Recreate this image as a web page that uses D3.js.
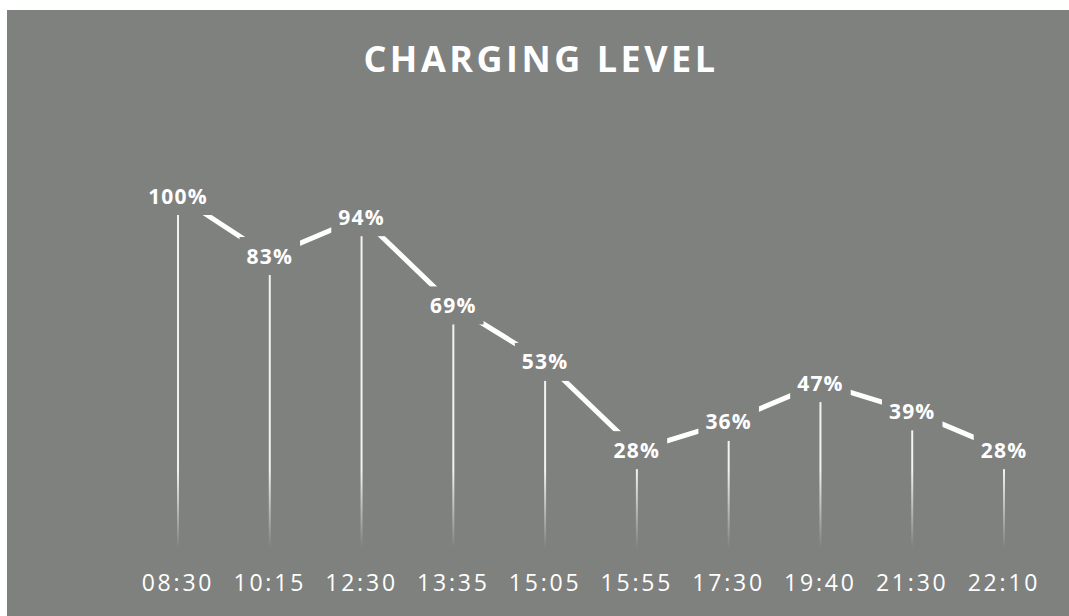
<!DOCTYPE html>
<html>
<head>
<meta charset="utf-8">
<script src="https://cdn.jsdelivr.net/npm/d3@7"></script>
<style>
  body { margin: 0; background: #fff; }
  svg { display: block; }
</style>
</head>
<body>
<div id="container"></div>
<script>
/* DATA */
const times = ["08:30", "10:15", "12:30", "13:35", "15:05", "15:55", "17:30", "19:40", "21:30", "22:10"];
const levels = [100, 83, 94, 69, 53, 28, 36, 47, 39, 28];

/* CONSTANTS */
const width = 1069,
  height = 616,
  bg = "#7f817f",
  margin = { top: 10, left: 7 };

const svg = d3.select("#container")
  .append("svg")
  .attr("width", width)
  .attr("height", height);

svg.append("rect")
  .attr("x", margin.left)
  .attr("y", margin.top)
  .attr("width", width - margin.left)
  .attr("height", height - margin.top)
  .attr("fill", bg);

// fade for the drop lines
const grad = svg.append("defs").append("linearGradient")
  .attr("id", "fade")
  .attr("gradientUnits", "userSpaceOnUse")
  .attr("x1", 0).attr("x2", 0)
  .attr("y1", 470).attr("y2", 548);
grad.append("stop").attr("offset", 0).attr("stop-color", "#fff").attr("stop-opacity", 0.9);
grad.append("stop").attr("offset", 1).attr("stop-color", "#fff").attr("stop-opacity", 0);

/* SCALES */
const xScale = d3.scalePoint()
  .domain(times)
  .range([178, 1004]);

const yScale = d3.scaleLinear()
  .domain([0, 100])
  .range([549, 196]);

const data = times.map((t, i) => ({ time: t, level: levels[i] }));

/* TITLE */
svg.append("text")
  .attr("x", 541)
  .attr("y", 72)
  .attr("text-anchor", "middle")
  .attr("fill", "#fff")
  .attr("font-family", "Open Sans")
  .attr("font-weight", "bold")
  .attr("font-size", 36)
  .attr("letter-spacing", 3.5)
  .text("CHARGING LEVEL");

/* DROP LINES */
svg.append("g")
  .selectAll("line")
  .data(data)
  .join("line")
  .attr("x1", d => xScale(d.time))
  .attr("x2", d => xScale(d.time))
  .attr("y1", d => yScale(d.level))
  .attr("y2", yScale(0))
  .attr("stroke", "url(#fade)")
  .attr("stroke-width", 2);

/* LINE */
const line = d3.line()
  .x(d => xScale(d.time))
  .y(d => yScale(d.level));

svg.append("path")
  .datum(data)
  .attr("d", line)
  .attr("fill", "none")
  .attr("stroke", "#fff")
  .attr("stroke-width", 5);

/* DATA LABELS */
const labels = svg.append("g")
  .selectAll("g")
  .data(data)
  .join("g")
  .attr("transform", d => `translate(${xScale(d.time)},${yScale(d.level)})`);

labels.append("text")
  .attr("text-anchor", "middle")
  .attr("dy", "0.36em")
  .attr("fill", "#fff")
  .attr("font-family", "Open Sans")
  .attr("font-weight", "bold")
  .attr("font-size", 21)
  .attr("letter-spacing", 1.2)
  .text(d => d.level + "%");

// gray box behind each label to break the line
labels.each(function() {
  const g = d3.select(this);
  const bb = g.select("text").node().getBBox();
  g.insert("rect", "text")
    .attr("x", bb.x - 7)
    .attr("y", -19)
    .attr("width", bb.width + 14)
    .attr("height", 38)
    .attr("fill", bg);
});

/* X LABELS */
svg.append("g")
  .selectAll("text")
  .data(times)
  .join("text")
  .attr("x", d => xScale(d))
  .attr("y", 591)
  .attr("text-anchor", "middle")
  .attr("fill", "#fff")
  .attr("font-family", "Open Sans")
  .attr("font-size", 23)
  .attr("letter-spacing", 2.8)
  .text(d => d);
</script>
</body>
</html>
